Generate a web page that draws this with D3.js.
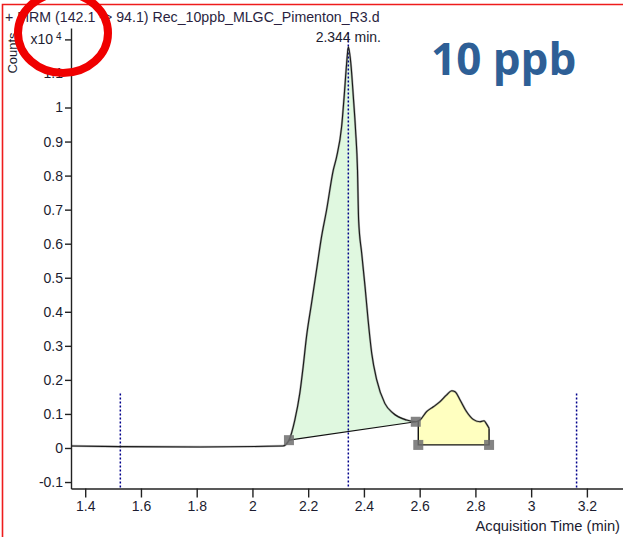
<!DOCTYPE html>
<html><head><meta charset="utf-8">
<script src="https://cdn.jsdelivr.net/npm/d3@7"></script>
<style>
html,body{margin:0;padding:0;background:#fff;}
svg{display:block;}
text{font-family:"Liberation Sans",Arial,sans-serif;}
</style></head>
<body>
<svg id="chart" width="623" height="537"></svg>
<script>
// ---- data (counts in units of x10^4) ----
const traceTime = [1.349,1.525,1.812,2.109,2.131,2.152,2.170,2.182,2.194,2.212,2.230,2.248,2.266,2.290,2.302,2.320,2.329,2.338,2.344,2.353,2.362,2.370,2.377,2.381,2.392,2.404,2.415,2.428,2.446,2.475,2.505,2.553,2.586,2.595,2.601,2.625,2.649,2.673,2.697,2.715,2.727,2.745,2.768,2.792,2.816,2.831,2.838,2.849];
const traceCounts = [0.006,0.004,0.003,0.006,0.023,0.082,0.161,0.239,0.327,0.425,0.523,0.621,0.699,0.816,0.855,0.944,1.032,1.130,1.178,1.130,1.032,0.934,0.816,0.670,0.572,0.474,0.376,0.278,0.200,0.131,0.102,0.082,0.077,0.079,0.082,0.107,0.121,0.136,0.156,0.168,0.165,0.141,0.107,0.084,0.077,0.080,0.073,0.058];
const peak1Range = [2.131, 2.586];
const peak2Range = [2.595, 2.849];
const peak2Base = 0.009;
const markerTimes = [2.131, 2.586];
const markerCounts = [0.023, 0.077];
const peak2MarkerTimes = [2.595, 2.849];
const dottedTimes = [1.526, 2.344, 3.163];
const dottedTops = [0.16, 1.22, 0.16];
const xTicks = [1.4,1.6,1.8,2.0,2.2,2.4,2.6,2.8,3.0,3.2];
const xTickLabels = ["1.4","1.6","1.8","2","2.2","2.4","2.6","2.8","3","3.2"];
const yTicks = [-0.1,0,0.1,0.2,0.3,0.4,0.5,0.6,0.7,0.8,0.9,1.0,1.1,1.2];
const yTickLabels = ["-0.1","0","0.1","0.2","0.3","0.4","0.5","0.6","0.7","0.8","0.9","1","1.1",""];
const titleText = "+ MRM (142.1 -> 94.1) Rec_10ppb_MLGC_Pimenton_R3.d";
const peakLabel = "2.344 min.";
const xTitle = "Acquisition Time (min)";
const yTitle = "Counts";
const noteText = "10 ppb";

const svg = d3.select("#chart");
const x = d3.scaleLinear().domain([1.349, 3.35]).range([71, 628.7]);
const y = d3.scaleLinear().domain([-0.119, 1.2335]).range([488.5, 28]);
const pts = traceTime.map((t,i)=>[t, traceCounts[i]]);
const line = d3.line().x(d=>x(d[0])).y(d=>y(d[1]));

// outer red frame (top & left visible)
svg.append("path").attr("d", "M2.5,537 L2.5,4.5 L623,4.5")
  .attr("fill","none").attr("stroke","#ee1c1c").attr("stroke-width",1.6);

// peak fills
const p1 = pts.filter(d=>d[0]>=peak1Range[0]-1e-9 && d[0]<=peak1Range[1]+1e-9);
svg.append("path").attr("d", line(p1)+"Z").attr("fill","#e0f8e0").attr("stroke","none");
svg.append("path").attr("d", line([p1[0], p1[p1.length-1]])).attr("fill","none").attr("stroke","#111").attr("stroke-width",1.2);

const p2 = pts.filter(d=>d[0]>=peak2Range[0]-1e-9 && d[0]<=peak2Range[1]+1e-9);
const p2poly = p2.concat([[peak2Range[1], peak2Base],[peak2Range[0], peak2Base]]);
svg.append("path").attr("d", line(p2poly)+"Z").attr("fill","#ffffc0").attr("stroke","none");
svg.append("path").attr("d", line([p2[p2.length-1],[peak2Range[1],peak2Base],[peak2Range[0],peak2Base],p2[0]]))
  .attr("fill","none").attr("stroke","#111").attr("stroke-width",1.4);

// dotted RT lines
dottedTimes.forEach((t,i)=>{
  svg.append("line").attr("x1",x(t)).attr("x2",x(t)).attr("y1",y(dottedTops[i])).attr("y2",y(-0.119))
    .attr("stroke","#00008b").attr("stroke-width",1.5).attr("stroke-dasharray","2,2");
});

// trace
const curveLine = d3.line().x(d=>x(d[0])).y(d=>y(d[1])).curve(d3.curveMonotoneX);
svg.append("path").attr("d", curveLine(pts))
  .attr("fill","none").attr("stroke","#555").attr("stroke-width",2.2).attr("opacity",0.45);
svg.append("path").attr("d", curveLine(pts))
  .attr("fill","none").attr("stroke","#1a1a1a").attr("stroke-width",1.1);

// markers
const mk = markerTimes.map((t,i)=>[t, markerCounts[i]]).concat(peak2MarkerTimes.map(t=>[t, peak2Base]));
svg.selectAll("rect.mk").data(mk).enter().append("rect")
  .attr("x",d=>x(d[0])-5).attr("y",d=>y(d[1])-5).attr("width",10).attr("height",10)
  .attr("fill","#6e6e6e").attr("opacity",0.85);

// axes
const xAxis = d3.axisBottom(x).tickValues(xTicks).tickFormat((d,i)=>xTickLabels[i]).tickSize(9).tickSizeOuter(0).tickPadding(4);
const gx = svg.append("g").attr("transform","translate(0,488.5)").call(xAxis);
const yAxis = d3.axisLeft(y).tickValues(yTicks).tickFormat((d,i)=>yTickLabels[i]).tickSize(6).tickSizeOuter(0).tickPadding(2);
const gy = svg.append("g").attr("transform","translate(71,0)").call(yAxis);
[gx,gy].forEach(g=>{
  g.selectAll("path,line").attr("stroke","#222").attr("stroke-width",1.4);
  g.selectAll("text").attr("font-size",14).attr("fill","#1c1c30").attr("font-family","'Liberation Sans',Arial,sans-serif");
});
// exponent label at top tick
svg.append("text").attr("x",53).attr("y",y(1.2)+5).attr("text-anchor","end").attr("font-size",14).attr("fill","#1c1c30").text("x10");
svg.append("text").attr("x",56).attr("y",y(1.2)+1).attr("font-size",10).attr("fill","#1c1c30").text("4");

// texts
svg.append("text").attr("x",5).attr("y",22).attr("font-size",14.2).attr("fill","#2a1f3f").text(titleText);
svg.append("text").attr("transform","translate(17,53) rotate(-90)").attr("text-anchor","middle").attr("font-size",13).attr("fill","#1c1c30").text(yTitle);
svg.append("text").attr("x",x(2.344)).attr("y",42).attr("text-anchor","middle").attr("font-size",14).attr("fill","#1c1c30").text(peakLabel);
svg.append("text").attr("x",620).attr("y",531).attr("text-anchor","end").attr("font-size",14.7).attr("fill","#1c1c30").text(xTitle);
svg.append("text").attr("x",431).attr("y",75).attr("font-size",44).attr("font-weight","bold").attr("fill","#2e5f96")
  .style("font-family","'Open Sans',sans-serif").text(noteText);

// red annotation circle
svg.append("ellipse").attr("cx",63).attr("cy",33).attr("rx",45).attr("ry",40)
  .attr("fill","none").attr("stroke","#f00000").attr("stroke-width",8);
</script>
</body></html>
